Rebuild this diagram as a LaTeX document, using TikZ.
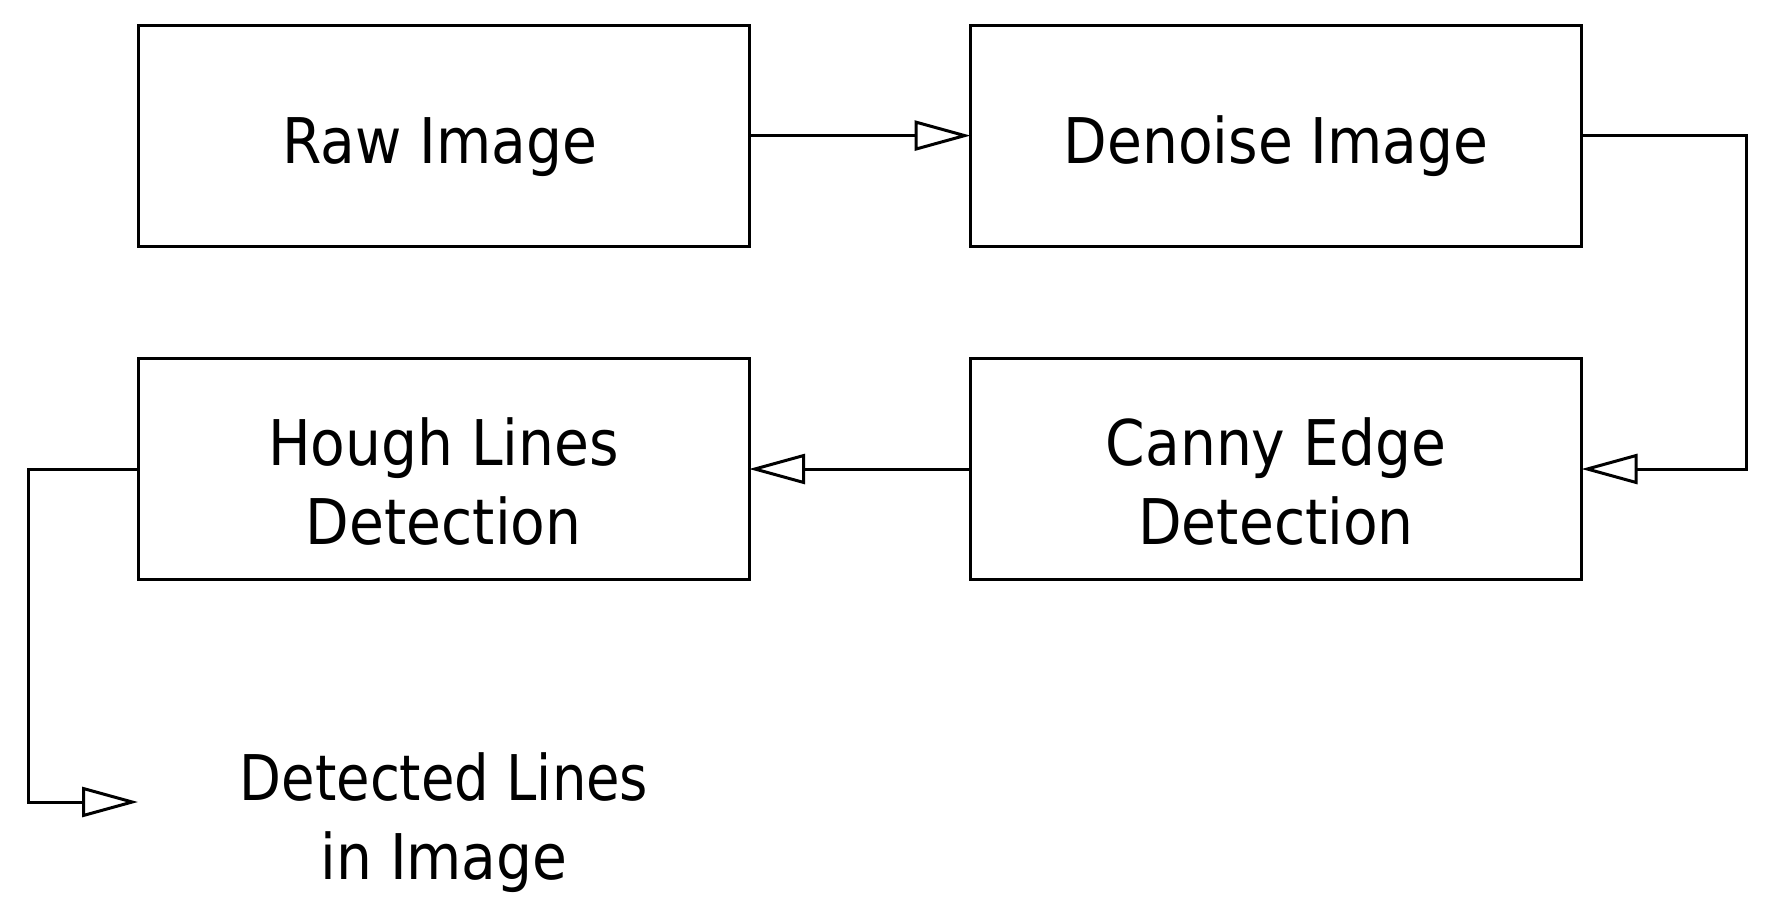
\documentclass[tikz,border=0pt]{standalone}
\usepackage{fontspec}
\setmainfont{DejaVu Sans Condensed}
\usetikzlibrary{arrows.meta}
\begin{document}
\begin{tikzpicture}[x=1pt,y=-1pt,
  box/.style={draw, line width=3pt, minimum width=611pt, minimum height=221pt, inner sep=0pt, outer sep=0pt},
  lbl/.style={inner sep=0pt, anchor=base, font=\fontsize{63}{79}\selectfont},
  arr/.style={line width=3pt, -{Triangle[length=56pt, width=30pt, fill=white]}}]
\useasboundingbox (0,0) rectangle (1772,915);
% boxes
\node[box] (raw) at (443.6,135.6) {};
\node[box] (den) at (1276,135.6) {};
\node[box] (hough) at (443.6,469) {};
\node[box] (canny) at (1276,469) {};
% labels
\node[lbl] (rawt) at (440,164) {Raw Image};
\node[lbl] (dent) at (1276,164) {Denoise Image};
\node[lbl] (hought) at (443.6,465.6) {\begin{tabular}[t]{@{}c@{}}Hough Lines\\Detection\end{tabular}};
\node[lbl] (cannyt) at (1276,465.6) {\begin{tabular}[t]{@{}c@{}}Canny Edge\\Detection\end{tabular}};
\node[lbl] (outt) at (444,800) {\begin{tabular}[t]{@{}c@{}}\scalebox{0.96}[1]{Detected Lines}\\in Image\end{tabular}};
\coordinate (out) at (138,802);
% connectors
\draw[arr] (raw.east) -- (den.west);
\draw[arr] (den.east) -- ++(165,0) |- (canny.east);
\draw[arr] (canny.west) -- (hough.east);
\draw[arr] (hough.west) -- ++(-110,0) |- (out);
\end{tikzpicture}
\end{document}
